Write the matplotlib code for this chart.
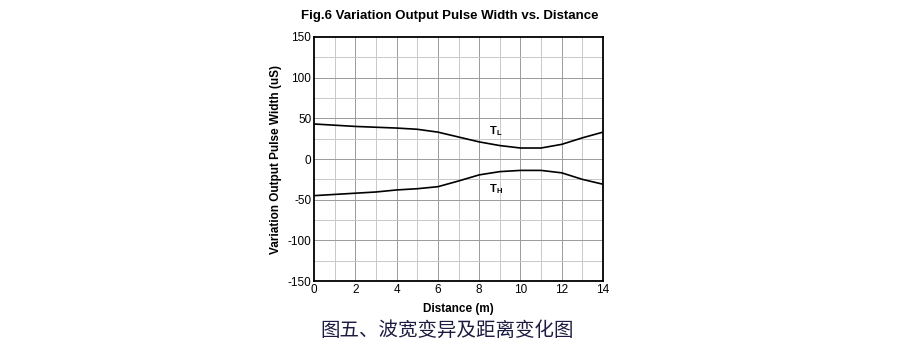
import matplotlib.pyplot as plt
import numpy as np

plt.rcParams['font.family'] = ['Liberation Sans', 'DejaVu Sans']
plt.rcParams['axes.unicode_minus'] = False

distance = [0, 1, 2, 3, 4, 5, 6, 7, 8, 9, 10, 11, 12, 13, 14]
t_low = [43, 41.5, 40, 39, 38, 36.5, 33, 27, 21, 16.5, 13.5, 13.5, 18, 26, 33]
t_high = [-45, -43.5, -42, -40.5, -38, -36.5, -34, -27, -19.5, -15.5, -14, -14, -17, -25, -31]

fig = plt.figure(figsize=(9, 3.51), dpi=100)
ax = fig.add_axes([0.349, 0.199, 0.321, 0.696])

# minor grid every 1 m / 25 uS, major every 2 m / 50 uS
for xv in range(1, 14):
    ax.axvline(xv, color='#9a9a9a' if xv % 2 == 0 else '#c8c8c8', lw=0.7, zorder=0)
for yv in range(-125, 150, 25):
    ax.axhline(yv, color='#9a9a9a' if yv % 50 == 0 else '#c8c8c8', lw=0.7, zorder=0)

ax.plot(distance, t_low, color='black', lw=1.2)
ax.plot(distance, t_high, color='black', lw=1.2)
ax.text(8.5, 31, 'T', fontsize=8, fontweight='bold')
ax.text(8.85, 29.5, 'L', fontsize=5.5, fontweight='bold')
ax.text(8.5, -40, 'T', fontsize=8, fontweight='bold')
ax.text(8.85, -41.5, 'H', fontsize=5.5, fontweight='bold')

ax.set_xlim(0, 14)
ax.set_ylim(-150, 150)
ax.set_xticks(range(0, 15, 2))
ax.set_yticks(range(-150, 151, 50))
ax.tick_params(length=0, labelsize=8.5, pad=2)
for s in ax.spines.values():
    s.set_linewidth(1.3)

ax.set_xlabel('Distance (m)', fontsize=8.5, fontweight='bold', labelpad=5)
ax.set_ylabel('Variation Output Pulse Width (uS)', fontsize=8.5, fontweight='bold', labelpad=4)
fig.text(0.5, 0.955, 'Fig.6 Variation Output Pulse Width vs. Distance', ha='center',
         va='center', fontsize=9.5, fontweight='bold')
fig.text(0.497, 0.06, '图五、波宽变异及距离变化图', ha='center', va='center', fontsize=14,
         color='#1c1c40', family=['Noto Sans CJK SC', 'DejaVu Sans'])

fig.savefig('out.png', dpi=100)
